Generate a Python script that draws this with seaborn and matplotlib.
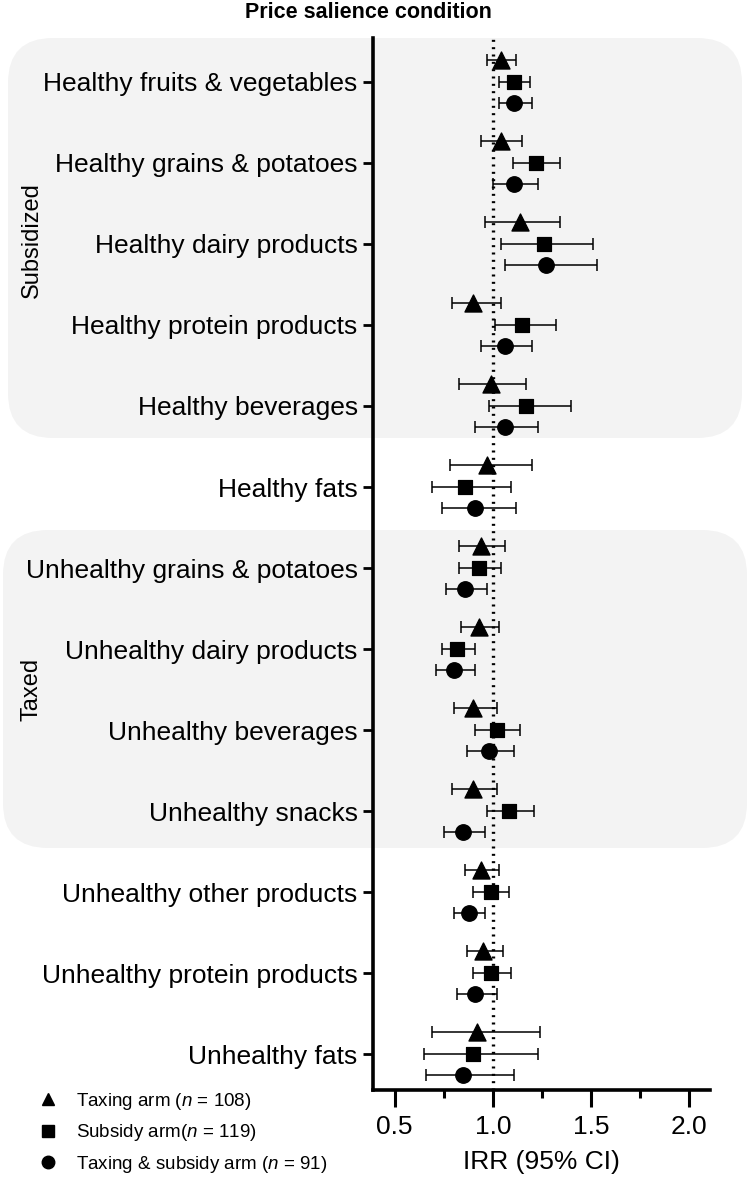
import numpy as np
import pandas as pd
import matplotlib
matplotlib.use("Agg")
import matplotlib.pyplot as plt
from matplotlib.patches import FancyBboxPatch
from matplotlib.lines import Line2D
import seaborn as sns

sns.set_style('ticks')
plt.rcParams['font.family'] = ['Liberation Sans', 'DejaVu Sans']
plt.rcParams['mathtext.fontset'] = 'custom'
plt.rcParams['mathtext.rm'] = 'Liberation Sans'
plt.rcParams['mathtext.it'] = 'Liberation Sans:italic'
for k in ['text.color', 'axes.labelcolor', 'xtick.color', 'ytick.color', 'axes.edgecolor']:
    plt.rcParams[k] = 'black'

# Data
categories = [
    "Healthy fruits & vegetables", "Healthy grains & potatoes", "Healthy dairy products",
    "Healthy protein products", "Healthy beverages", "Healthy fats",
    "Unhealthy grains & potatoes", "Unhealthy dairy products", "Unhealthy beverages",
    "Unhealthy snacks", "Unhealthy other products", "Unhealthy protein products",
    "Unhealthy fats",
]

tax_irr = [1.04, 1.04, 1.14, 0.90, 0.99, 0.97, 0.94, 0.93, 0.90, 0.90, 0.94, 0.95, 0.92]
tax_lo = [0.97, 0.94, 0.96, 0.79, 0.83, 0.78, 0.83, 0.84, 0.80, 0.79, 0.86, 0.87, 0.69]
tax_hi = [1.12, 1.15, 1.34, 1.04, 1.17, 1.20, 1.06, 1.03, 1.02, 1.02, 1.03, 1.05, 1.24]

sub_irr = [1.11, 1.22, 1.26, 1.15, 1.17, 0.86, 0.93, 0.82, 1.02, 1.08, 0.99, 0.99, 0.90]
sub_lo = [1.03, 1.10, 1.04, 1.01, 0.98, 0.69, 0.83, 0.74, 0.91, 0.97, 0.90, 0.90, 0.65]
sub_hi = [1.19, 1.34, 1.51, 1.32, 1.40, 1.09, 1.04, 0.91, 1.14, 1.21, 1.08, 1.09, 1.23]

both_irr = [1.11, 1.11, 1.27, 1.06, 1.06, 0.91, 0.86, 0.80, 0.98, 0.85, 0.88, 0.91, 0.85]
both_lo = [1.03, 1.00, 1.06, 0.94, 0.91, 0.74, 0.76, 0.71, 0.87, 0.75, 0.80, 0.82, 0.66]
both_hi = [1.20, 1.23, 1.53, 1.20, 1.23, 1.12, 0.97, 0.91, 1.11, 0.96, 0.96, 1.02, 1.11]

arm_labels = ["Taxing arm ($\\it{n}$ = 108)", "Subsidy arm($\\it{n}$ = 119)",
              "Taxing & subsidy arm ($\\it{n}$ = 91)"]

# long-form table
arms = [("Taxing", tax_irr, tax_lo, tax_hi, -0.27),
        ("Subsidy", sub_irr, sub_lo, sub_hi, 0.0),
        ("Both", both_irr, both_lo, both_hi, 0.26)]
rows = []
for arm, irr, lo, hi, off in arms:
    for i, cat in enumerate(categories):
        rows.append({"arm": arm, "category": cat, "irr": irr[i], "lo": lo[i],
                     "hi": hi[i], "y": i + off})
df = pd.DataFrame(rows)

W, H = 750, 1182
fig = plt.figure(figsize=(W / 100, H / 100), dpi=100)
ax = fig.add_axes([373 / W, 1 - 1090 / H, 337 / W, (1090 - 38) / H])
ax.set_facecolor('none')

# grey group panels (figure pixel layout)
def panel(x0, y0, x1, y1, r):
    box = FancyBboxPatch((x0 / 100, (H - y1) / 100), (x1 - x0) / 100, (y1 - y0) / 100,
                         boxstyle=f"round,pad=0,rounding_size={r / 100}",
                         transform=fig.dpi_scale_trans, facecolor='#f3f3f3',
                         edgecolor='none', zorder=-5)
    fig.patches.append(box)

panel(8, 38, 742, 438, 45)
panel(3, 530, 747, 848, 45)

ax.axvline(1.0, color='black', lw=2.4, ls=(0, (0.6, 1.6)), zorder=1)

ax.errorbar(df['irr'], df['y'], xerr=[df['irr'] - df['lo'], df['hi'] - df['irr']],
            fmt='none', ecolor='black', elinewidth=1.1, capsize=4, capthick=1.1, zorder=2)

marker_of = {'Taxing': '^', 'Subsidy': 's', 'Both': 'o'}
size_of = {'Taxing': 150, 'Subsidy': 115, 'Both': 125}
for arm, sub in df.groupby('arm', sort=False):
    sns.scatterplot(data=sub, x='irr', y='y', marker=marker_of[arm], color='black',
                    edgecolor='black', s=size_of[arm], legend=False, ax=ax, zorder=3)

ax.set_xlim(0.39, 2.105)
ax.set_ylim(12.44, -0.54)
ax.set_xticks([0.5, 1.0, 1.5, 2.0])
ax.set_xticklabels(['0.5', '1.0', '1.5', '2.0'])
ax.set_xticks([0.75, 1.25, 1.75], minor=True)
ax.set_yticks(range(len(categories)))
ax.set_yticklabels(categories)
ax.tick_params(axis='x', which='major', length=12, width=2.2, labelsize=19, pad=6)
ax.tick_params(axis='x', which='minor', length=6, width=2.2)
ax.tick_params(axis='y', length=7, width=2, labelsize=19, pad=4)
for s in ['top', 'right']:
    ax.spines[s].set_visible(False)
for s in ['left', 'bottom']:
    ax.spines[s].set_linewidth(2.6)
ax.set_xlabel('IRR (95% CI)', fontsize=19, labelpad=8)
ax.set_ylabel('')

fig.text(368 / W, 1 - 13 / H, 'Price salience condition', fontsize=15.5, fontweight='bold',
         ha='center', va='center')
fig.text(32 / W, 1 - 240 / H, 'Subsidized', fontsize=17, rotation=90, ha='center', va='center')
fig.text(32 / W, 1 - 689 / H, 'Taxed', fontsize=17, rotation=90, ha='center', va='center')

handles = [Line2D([], [], ls='none', marker=m, color='black', markersize=ms)
           for m, ms in [('^', 9), ('s', 9), ('o', 9)]]
fig.legend(handles, arm_labels, loc='upper left', bbox_to_anchor=(37 / W, 1 - 1091 / H),
           frameon=False, fontsize=13.5, handlelength=1.2, handletextpad=0.9,
           labelspacing=0.55, borderpad=0, borderaxespad=0)

fig.savefig('out.png', dpi=100)
